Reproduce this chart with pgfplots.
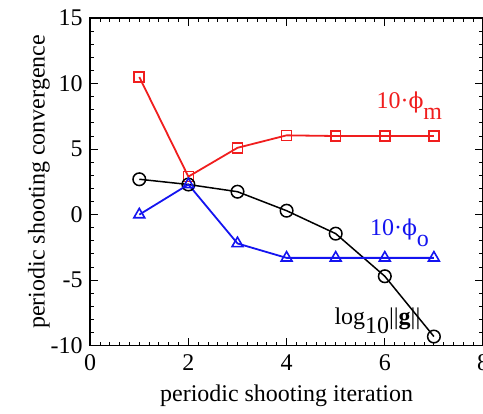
\documentclass[border=0pt]{standalone}
\usepackage{fontspec}
\setmainfont{Liberation Serif}
\newfontfamily\dvs{DejaVu Serif}
\usepackage{pgfplots}
\pgfplotsset{compat=1.18}
\definecolor{pred}{RGB}{240,30,30}
\definecolor{pblue}{RGB}{20,20,240}
\newcommand{\bigfont}{\fontsize{24}{28}\selectfont}
\newcommand{\phis}{{\dvs\fontsize{22}{28}\selectfont ϕ}}
\begin{document}
\begin{tikzpicture}[trim axis right]
\begin{axis}[
	name=ax,
	scale only axis, width=392bp, height=327bp,
	xmin=0, xmax=8, ymin=-10, ymax=15,
	xtick={0,2,4,6,8}, ytick={-10,-5,0,5,10,15},
	minor x tick num=9, minor y tick num=4,
	tick align=inside, major tick length=8bp, minor tick length=4bp,
	/pgf/number format/assume math mode=true,
	tick label style={font=\bigfont},
	yticklabel style={xshift=-4bp},
	xticklabel style={yshift=-5bp},
	label style={font=\bigfont},
	xlabel={periodic shooting iteration},
	xlabel style={yshift=-8bp},
	ylabel={periodic shooting convergence},
	ylabel shift=-6bp,
	axis line style={line width=1.5pt},
	every tick/.style={black, line width=1pt},
	clip=false,
]
\addplot[pred, line width=1.8pt, mark=square, mark size=5pt, mark options={line width=1.6pt}] coordinates {
(1,10.5) (2,2.9) (3,5.1) (4,6.05) (5,6.0) (6,6.0) (7,6.0)};
\addplot[black, line width=1.5pt, mark=o, mark size=6.3pt, mark options={line width=1.5pt}] coordinates {
(1,2.7) (2,2.3) (3,1.75) (4,0.3) (5,-1.45) (6,-4.7) (7,-9.3)};
\addplot[pblue, line width=1.8pt, mark=triangle, mark size=6.3pt, mark options={line width=1.6pt}] coordinates {
(1,0.0) (2,2.3) (3,-2.2) (4,-3.3) (5,-3.3) (6,-3.3) (7,-3.3)};
\node[pred, font=\bigfont] at (axis cs:6.5,8.3) {10·\phis\raisebox{-1ex}{m}};
\node[pblue, font=\bigfont] at (axis cs:6.3,-1.4) {10·\phis\raisebox{-1ex}{o}};
\node[black, font=\bigfont] at (axis cs:5.85,-8.1) {log\raisebox{-0.9ex}{10}||\textbf{g}||};
\end{axis}
\path (ax.south west) ++(-90bp,-68bp) coordinate (bl);
\path (ax.north west) ++(0,18bp) coordinate (tl);
\end{tikzpicture}
\end{document}
